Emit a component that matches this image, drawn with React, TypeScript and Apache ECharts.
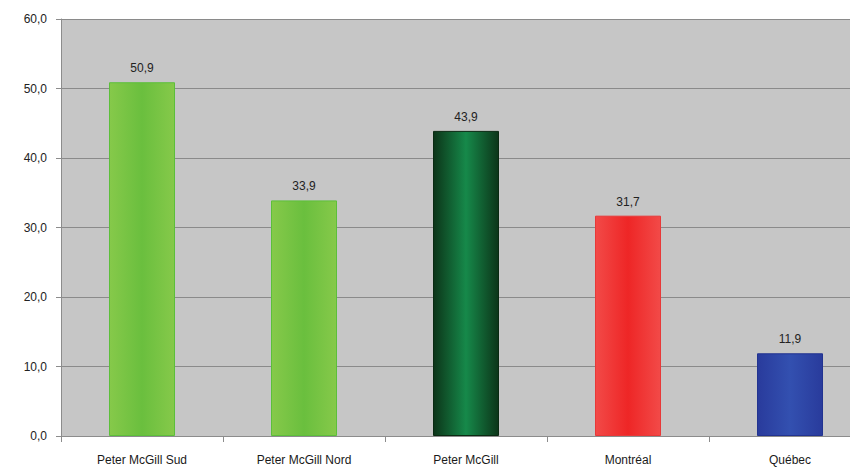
import React, { useEffect, useRef } from "react";
import * as echarts from "echarts";

const categories = ["Peter McGill Sud", "Peter McGill Nord", "Peter McGill", "Montréal", "Québec"];
const values = [50.9, 33.9, 43.9, 31.7, 11.9];
const barEdgeColors = ["#86c94a", "#86c94a", "#0c3519", "#f24a48", "#293b9c"];
const barCenterColors = ["#6abf3e", "#6abf3e", "#16894a", "#ee2626", "#3350b0"];
const barBorderColors = ["#5cbf3a", "#5cbf3a", "#0a2a12", "#e83838", "#223390"];

const fmt = (v: number) => v.toFixed(1).replace(".", ",");

export default function App() {
  const ref = useRef<HTMLDivElement>(null);
  useEffect(() => {
    if (!ref.current) return;
    const chart = echarts.init(ref.current, undefined, { renderer: "svg" });
    chart.setOption({
      animation: false,
      backgroundColor: "#ffffff",
      textStyle: { fontFamily: "Liberation Sans, Arial, sans-serif" },
      grid: {
        left: 61,
        top: 19,
        width: 810,
        height: 417,
        show: true,
        backgroundColor: "#c6c6c6",
        borderWidth: 0,
        containLabel: false,
        outerBoundsMode: "none",
      },
      xAxis: {
        type: "category",
        data: categories,
        axisLine: { show: true, lineStyle: { color: "#8c8c8c", width: 1 } },
        axisTick: { show: true, alignWithLabel: false, length: 6, lineStyle: { color: "#8c8c8c" } },
        axisLabel: { color: "#1a1a1a", fontSize: 12, margin: 18, interval: 0 },
        splitLine: { show: false },
      },
      yAxis: {
        type: "value",
        min: 0,
        max: 60,
        interval: 10,
        axisLine: { show: true, lineStyle: { color: "#8c8c8c", width: 1 } },
        axisTick: { show: true, length: 5, lineStyle: { color: "#8c8c8c" } },
        axisLabel: { color: "#222222", fontSize: 12, margin: 14, formatter: (v: number) => fmt(v) },
        splitLine: { show: true, lineStyle: { color: "#8a8a8a", width: 1 } },
      },
      series: [
        {
          type: "bar",
          barWidth: 66,
          data: values.map((v, i) => ({
            value: v,
            itemStyle: {
              borderColor: barBorderColors[i],
              borderWidth: 1,
              color: new echarts.graphic.LinearGradient(0, 0, 1, 0, [
                { offset: 0, color: barEdgeColors[i] },
                { offset: 0.5, color: barCenterColors[i] },
                { offset: 1, color: barEdgeColors[i] },
              ]),
            },
          })),
          label: {
            show: true,
            position: "top",
            distance: 8,
            color: "#222222",
            fontSize: 12,
            formatter: (p: any) => fmt(p.value),
          },
        },
      ],
    });
    return () => chart.dispose();
  }, []);
  return (
    <div
      ref={ref}
      style={{ position: "absolute", left: 0, top: 0, width: 850, height: 469 }}
    />
  );
}
